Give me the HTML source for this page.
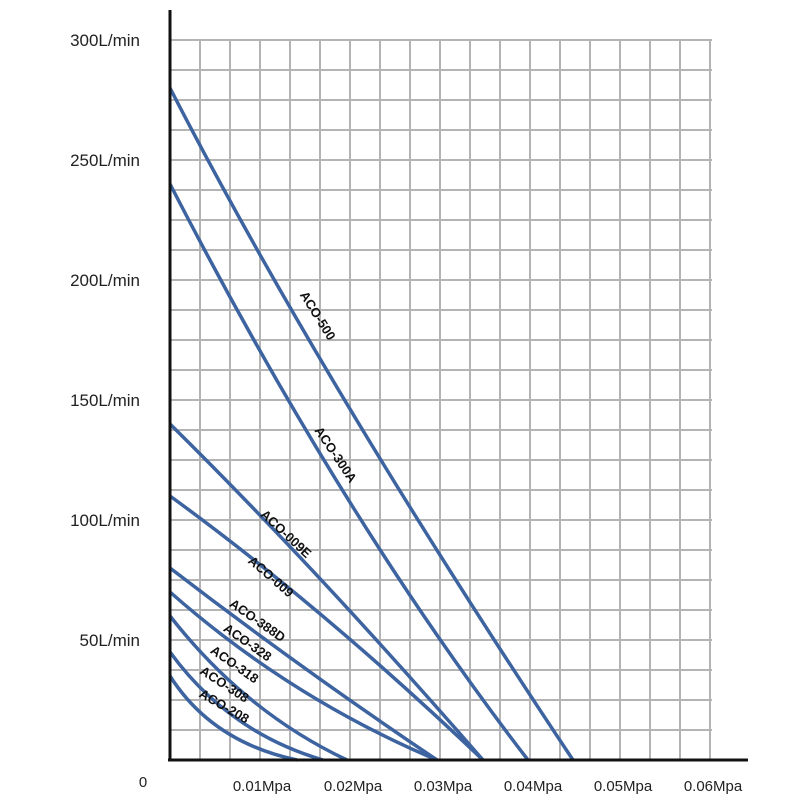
<!DOCTYPE html>
<html><head><style>body{margin:0;background:#fff}</style></head><body>
<svg width="800" height="800" xmlns="http://www.w3.org/2000/svg" font-family="Liberation Sans, sans-serif">
<rect width="800" height="800" fill="#fff"/>
<g stroke="#b4b4b4" stroke-width="2">
<path d="M200 40V760M230 40V760M260 40V760M290 40V760M320 40V760M350 40V760M380 40V760M410 40V760M440 40V760M470 40V760M500 40V760M530 40V760M560 40V760M590 40V760M620 40V760M650 40V760M680 40V760M710 40V760"/>
<path d="M170 40H712M170 70H712M170 100H712M170 130H712M170 160H712M170 190H712M170 220H712M170 250H712M170 280H712M170 310H712M170 340H712M170 370H712M170 400H712M170 430H712M170 460H712M170 490H712M170 520H712M170 550H712M170 580H712M170 610H712M170 640H712M170 670H712M170 700H712M170 730H712"/>
</g>
<g stroke="#3d64a0" stroke-width="3.5" fill="none">
<path d="M170 676 Q212 742 297 760"/>
<path d="M170 652 Q228 732 323 760"/>
<path d="M170 616 Q245 712 347 760"/>
<path d="M170 592 Q290 698 437 760"/>
<path d="M170 568 Q300 668 437 760"/>
<path d="M170 496 Q320 605 483 760"/>
<path d="M170 424 Q316 568 483 760"/>
<path d="M170 184 Q343 520 528 760"/>
<path d="M170 88 Q320 380 573 760"/>
</g>
<g stroke="#111" stroke-width="3"><path d="M170 10V761M168 760H748"/></g>
<g font-size="17" fill="#222" text-anchor="end">
<text x="140" y="46">300L/min</text><text x="140" y="166">250L/min</text><text x="140" y="286">200L/min</text>
<text x="140" y="406">150L/min</text><text x="140" y="526">100L/min</text><text x="140" y="646">50L/min</text>
</g>
<g font-size="15" fill="#222" text-anchor="middle">
<text x="143" y="787">0</text><text x="262" y="791">0.01Mpa</text><text x="353" y="791">0.02Mpa</text>
<text x="443" y="791">0.03Mpa</text><text x="533" y="791">0.04Mpa</text><text x="623" y="791">0.05Mpa</text><text x="713" y="791">0.06Mpa</text>
</g>
<g font-size="13" font-weight="bold" fill="#111" text-anchor="middle">
<text transform="translate(314,318) rotate(58)">ACO-500</text>
<text transform="translate(332,457) rotate(56)">ACO-300A</text>
<text transform="translate(283,537) rotate(43)">ACO-009E</text>
<text transform="translate(268,580) rotate(41)">ACO-009</text>
<text transform="translate(255,624) rotate(35)">ACO-388D</text>
<text transform="translate(245,646) rotate(35)">ACO-328</text>
<text transform="translate(232,668) rotate(35)">ACO-318</text>
<text transform="translate(222,688) rotate(33)">ACO-308</text>
<text transform="translate(222,710) rotate(30)">ACO-208</text>
</g>
</svg>
</body></html>
